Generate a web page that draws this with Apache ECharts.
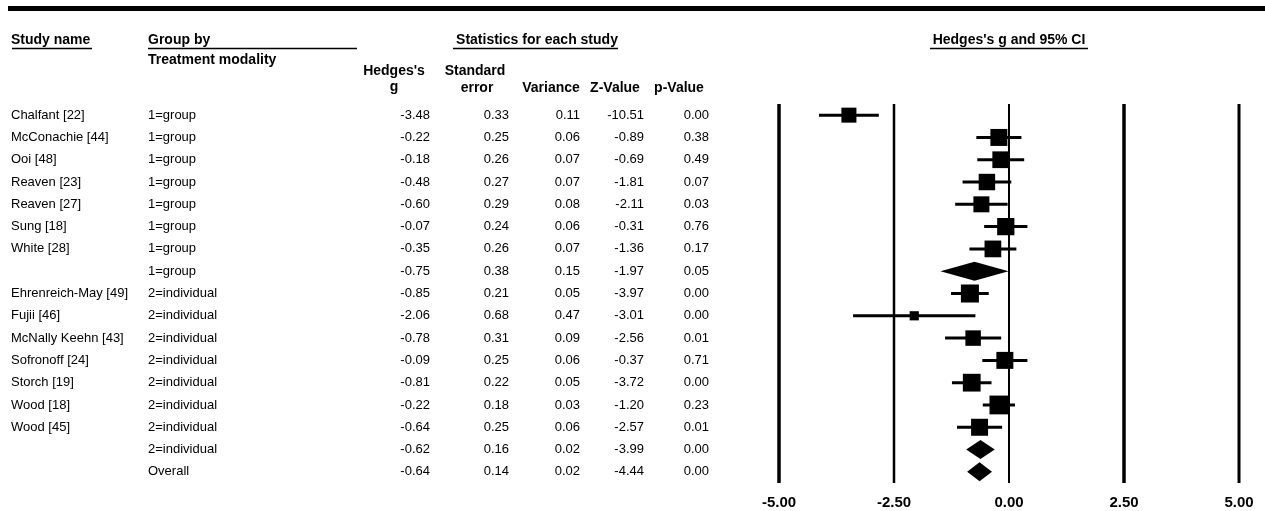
<!DOCTYPE html>
<html>
<head>
<meta charset="utf-8">
<script src="https://cdn.jsdelivr.net/npm/echarts@6/dist/echarts.min.js"></script>
<style>
html,body{margin:0;padding:0;background:#fff;}
#chart{width:1265px;height:511px;}
</style>
</head>
<body>
<div id="chart"></div>
<script>
// ---------------- data ----------------
const studies = ['Chalfant [22]', 'McConachie [44]', 'Ooi [48]', 'Reaven [23]', 'Reaven [27]', 'Sung [18]', 'White [28]', '',
  'Ehrenreich-May [49]', 'Fujii [46]', 'McNally Keehn [43]', 'Sofronoff [24]', 'Storch [19]', 'Wood [18]', 'Wood [45]', '', ''];
const groups = ['1=group', '1=group', '1=group', '1=group', '1=group', '1=group', '1=group', '1=group',
  '2=individual', '2=individual', '2=individual', '2=individual', '2=individual', '2=individual', '2=individual', '2=individual', 'Overall'];
const rowType = ['study', 'study', 'study', 'study', 'study', 'study', 'study', 'subtotal',
  'study', 'study', 'study', 'study', 'study', 'study', 'study', 'subtotal', 'overall'];
const hedgesG = [-3.48, -0.22, -0.18, -0.48, -0.60, -0.07, -0.35, -0.75, -0.85, -2.06, -0.78, -0.09, -0.81, -0.22, -0.64, -0.62, -0.64];
const stdError = [0.33, 0.25, 0.26, 0.27, 0.29, 0.24, 0.26, 0.38, 0.21, 0.68, 0.31, 0.25, 0.22, 0.18, 0.25, 0.16, 0.14];
const variance = [0.11, 0.06, 0.07, 0.07, 0.08, 0.06, 0.07, 0.15, 0.05, 0.47, 0.09, 0.06, 0.05, 0.03, 0.06, 0.02, 0.02];
const zValue = [-10.51, -0.89, -0.69, -1.81, -2.11, -0.31, -1.36, -1.97, -3.97, -3.01, -2.56, -0.37, -3.72, -1.20, -2.57, -3.99, -4.44];
const pValue = [0.00, 0.38, 0.49, 0.07, 0.03, 0.76, 0.17, 0.05, 0.00, 0.00, 0.01, 0.71, 0.00, 0.23, 0.01, 0.00, 0.00];
const lowerCI = [-4.13, -0.71, -0.69, -1.01, -1.17, -0.54, -0.86, -1.49, -1.26, -3.39, -1.39, -0.58, -1.24, -0.57, -1.13, -0.93, -0.91];
const upperCI = [-2.83, 0.27, 0.33, 0.05, -0.03, 0.40, 0.16, -0.01, -0.44, -0.73, -0.17, 0.40, -0.38, 0.13, -0.15, -0.31, -0.37];
const tickValues = [-5, -2.5, 0, 2.5, 5];
const tickLabels = ['-5.00', '-2.50', '0.00', '2.50', '5.00'];
const columnHeaders = ['Hedges\'s', 'g', 'Standard', 'error', 'Variance', 'Z-Value', 'p-Value'];
const titleStudy = 'Study name';
const titleGroup = 'Group by';
const titleModality = 'Treatment modality';
const titleStats = 'Statistics for each study';
const titlePlot = 'Hedges\'s g and 95% CI';

// ---------------- styling / layout ----------------
const FONT = '"Liberation Sans", Arial, sans-serif';
const REG = '13px ' + FONT;
const BOLD = 'bold 14px ' + FONT;
const INK = '#000';
const refLineWidths = [3.5, 2.5, 2, 3.5, 3];
const rows = studies.map((s, i) => String(i));

const chart = echarts.init(document.getElementById('chart'), null, {renderer: 'canvas'});

function txt(text, x, y, align, font) {
  return {type: 'text', silent: true, style: {text: text, x: x, y: y, textAlign: align, textVerticalAlign: 'middle', font: font, fill: INK}};
}
function hline(x1, x2, y, w) {
  return {type: 'line', silent: true, shape: {x1: x1, y1: y, x2: x2, y2: y}, style: {stroke: INK, lineWidth: w}};
}

const option = {
  animation: false,
  backgroundColor: '#fff',
  grid: [
    {left: 779, width: 460, top: 104, height: 379},
    {left: 0, right: 0, top: 104, height: 379}
  ],
  xAxis: [
    {
      gridIndex: 0, type: 'value', min: -5, max: 5, interval: 2.5,
      axisLine: {show: false}, axisTick: {show: false}, splitLine: {show: false},
      axisLabel: {
        margin: 12, color: INK, fontWeight: 'bold', fontSize: 15, fontFamily: FONT,
        formatter: function (v) { const k = tickValues.indexOf(v); return k >= 0 ? tickLabels[k] : ''; }
      }
    },
    {gridIndex: 1, type: 'value', min: 0, max: 1265, show: false}
  ],
  yAxis: [
    {gridIndex: 0, type: 'category', data: rows, inverse: true, show: false},
    {gridIndex: 1, type: 'category', data: rows, inverse: true, show: false}
  ],
  graphic: [
    {type: 'rect', silent: true, shape: {x: 8, y: 6, width: 1257, height: 5}, style: {fill: INK}},
    txt(titleStudy, 11, 40, 'left', BOLD), hline(12, 92, 48.5, 1.5),
    txt(titleGroup, 148, 40, 'left', BOLD), hline(148, 357, 48.5, 1.5),
    txt(titleModality, 148, 60, 'left', BOLD),
    txt(titleStats, 537, 40, 'center', BOLD), hline(453, 618, 48.5, 1.5),
    txt(columnHeaders[0], 394, 71, 'center', BOLD),
    txt(columnHeaders[1], 394, 87, 'center', BOLD),
    txt(columnHeaders[2], 475, 71, 'center', BOLD),
    txt(columnHeaders[3], 477, 88, 'center', BOLD),
    txt(columnHeaders[4], 551, 88, 'center', BOLD),
    txt(columnHeaders[5], 615, 88, 'center', BOLD),
    txt(columnHeaders[6], 679, 88, 'center', BOLD),
    txt(titlePlot, 1009, 40, 'center', BOLD), hline(930, 1088, 48.5, 1.5)
  ],
  series: [
    {
      // vertical reference lines at the ticks
      type: 'custom', xAxisIndex: 0, yAxisIndex: 0, silent: true, clip: false,
      data: tickValues.map((t, i) => [t, i]),
      encode: {x: 0},
      renderItem: function (params, api) {
        const cs = params.coordSys;
        const x = api.coord([api.value(0), 0])[0];
        return {type: 'line', shape: {x1: x, y1: cs.y, x2: x, y2: cs.y + cs.height},
          style: {stroke: INK, lineWidth: refLineWidths[params.dataIndex]}};
      }
    },
    {
      // effect sizes with confidence intervals
      type: 'custom', xAxisIndex: 0, yAxisIndex: 0, silent: true, clip: false,
      data: hedgesG.map((g, i) => [g, i, lowerCI[i], upperCI[i]]),
      encode: {x: [0, 2, 3], y: 1},
      renderItem: function (params, api) {
        const i = params.dataIndex;
        const c = api.coord([api.value(0), i]);
        const lo = api.coord([api.value(2), i]);
        const hi = api.coord([api.value(3), i]);
        if (rowType[i] === 'study') {
          const s = 6.9 / Math.sqrt(stdError[i] * stdError[i] + 0.1025);
          return {type: 'group', children: [
            {type: 'line', shape: {x1: lo[0], y1: c[1], x2: hi[0], y2: c[1]}, style: {stroke: INK, lineWidth: 3}},
            {type: 'rect', shape: {x: c[0] - s / 2, y: c[1] - s / 2, width: s, height: s}, style: {fill: INK}}
          ]};
        }
        const h = 9.5;
        return {type: 'polygon', shape: {points: [[lo[0], c[1]], [c[0], c[1] - h], [hi[0], c[1]], [c[0], c[1] + h]]},
          style: {fill: INK}};
      }
    },
    {
      // table text
      type: 'custom', xAxisIndex: 1, yAxisIndex: 1, silent: true, clip: false,
      data: hedgesG.map((g, i) => [0, i]),
      encode: {x: 0, y: 1},
      renderItem: function (params, api) {
        const i = params.dataIndex;
        const y = api.coord([0, i])[1];
        const X = (v) => api.coord([v, i])[0];
        return {type: 'group', children: [
          txt(studies[i], X(11), y, 'left', REG),
          txt(groups[i], X(148), y, 'left', REG),
          txt(hedgesG[i].toFixed(2), X(430), y, 'right', REG),
          txt(stdError[i].toFixed(2), X(509), y, 'right', REG),
          txt(variance[i].toFixed(2), X(580), y, 'right', REG),
          txt(zValue[i].toFixed(2), X(644), y, 'right', REG),
          txt(pValue[i].toFixed(2), X(709), y, 'right', REG)
        ]};
      }
    }
  ]
};
chart.setOption(option);
</script>
</body>
</html>
